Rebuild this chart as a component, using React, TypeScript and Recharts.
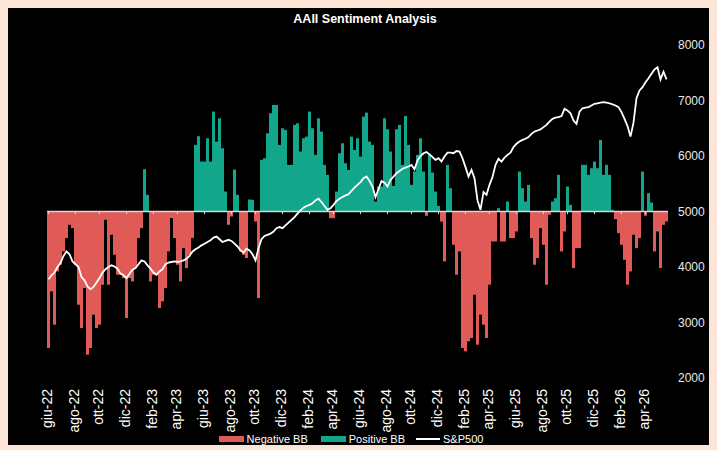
import { ComposedChart, Bar, Line, XAxis, YAxis, Cell, ReferenceLine } from 'recharts';

// AAII bull-bear spread, weekly, from June 2022 (percentage points)
const bbSpread = [
  -41, -24, -34, -18, -16, -12, -8, -4, -5, -16,
  -28, -35, -23, -43, -41, -31, -35, -34, -22, -2.5,
  -22, -7, -13, -19, -19, -20, -32, -20, -21, -17,
  -8, -5, 12.7, 5, -21, -19, -19, -29, -27, -23,
  -12, -2, -8, -16, -21, -11, -17, -13, -8, 20,
  22.6, 15, 15, 22, 15, 30, 21, 28, 19, 6,
  -4, -1.5, 12.6, 5, -12, -13, -14, 3.6, 3.5, -3,
  -26, 15.5, 16, 23.5, 29.5, 32, 32, 20, 25, 24.5,
  14, 14, 26, 26.5, 18, 22, 22.5, 30, 25, 17,
  28, 24, 14, 11, -2, -2, 6, 17.5, 20.5, 14.5,
  12.5, 22.5, 18.5, 22, 16.5, 28.5, 29.7, 21, 20, 3,
  7.5, 7.5, 28, 24.7, 18, 7.7, 24.7, 26, 14, 28.7,
  20, 8, 12, 17, 22, 12, -1.3, 17.4, 11.7, 6,
  1.7, -3, -15, 14, 7, -10, -19, -12, -41, -42,
  -39, -38, -25, -40, -31, -34, -38, -22, -9, -9,
  1, -9, -9, 3, -8, -8, -6, 12, 7, 3,
  8, -8, -16, -14, -5, -10, -22, -1, 3, 4,
  11, -12, -6, 7.5, 2, -17, -11, -11, 14, 14,
  11, 13, 15, 13, 21.5, 11, 14, 11, 0.5, -2.3,
  -6.5, -10, -14.5, -22, -18, -7, -11, -8, 12, -1.3,
  5.5, 2.7, -12, -6, -17, -4, -3,
];

// S&P500 weekly close
const sp500 = [
  3780, 3850, 3900, 4000, 4070, 4200, 4280, 4230, 4100, 4050,
  4000, 3820, 3760, 3650, 3600, 3640, 3720, 3800, 3900, 3960,
  4000, 4030, 4010, 3970, 3880, 3850, 3800, 3880, 3950, 3980,
  4050, 4120, 4100, 4030, 3970, 3900, 3860, 3920, 3960, 4050,
  4080, 4090, 4100, 4090, 4100, 4120, 4150, 4200, 4280, 4320,
  4350, 4390, 4420, 4450, 4480, 4530, 4550, 4500, 4450, 4470,
  4490, 4470, 4420, 4370, 4300, 4260, 4330, 4300, 4230, 4120,
  4340, 4500, 4560, 4580, 4600, 4640, 4700, 4720, 4700, 4750,
  4800, 4850, 4900, 4960, 5020, 5070, 5100, 5120, 5150, 5200,
  5230, 5170, 5100, 5030, 5060, 5120, 5190, 5230, 5260, 5290,
  5310, 5370, 5430, 5480, 5530, 5600, 5630, 5550, 5450, 5260,
  5400, 5550, 5520, 5450, 5570, 5630, 5690, 5730, 5770, 5790,
  5810, 5840, 5760, 5920, 6000, 6050, 6070, 6030, 5980, 5930,
  5960, 5900, 5990, 6060, 6060, 6050, 6090, 6080, 5960, 5800,
  5630, 5750, 5600, 5200, 5030, 5350, 5300, 5480, 5620, 5840,
  5950, 5900, 5970, 6020, 6060, 6160, 6220, 6260, 6290, 6310,
  6340, 6400, 6440, 6460, 6480, 6520, 6560, 6620, 6670, 6690,
  6700, 6720, 6850, 6820, 6770, 6640, 6580, 6800, 6860, 6870,
  6880, 6910, 6940, 6950, 6960, 6970, 6960, 6950, 6930, 6910,
  6880, 6790, 6670, 6540, 6350, 6600, 7040, 7180, 7240, 7330,
  7400, 7480, 7560, 7600, 7380, 7520, 7380,
];

const tickLabels = [
  'giu-22', 'ago-22', 'ott-22', 'dic-22', 'feb-23', 'apr-23', 'giu-23', 'ago-23',
  'ott-23', 'dic-23', 'feb-24', 'apr-24', 'giu-24', 'ago-24', 'ott-24', 'dic-24',
  'feb-25', 'apr-25', 'giu-25', 'ago-25', 'ott-25', 'dic-25', 'feb-26', 'apr-26',
];
// week index where each month label starts
const tickWeeks = [0, 9, 17, 26, 35, 43, 52, 61, 69, 78, 87, 95, 104, 113, 121, 130, 139, 147, 156, 165, 173, 182, 191, 199];

const spTicks = [2000, 3000, 4000, 5000, 6000, 7000, 8000];

const RED = '#e05a58';
const GREEN = '#12a68a';
const FONT = '"Liberation Sans", Arial, sans-serif';

const data = bbSpread.map((bb, i) => ({ week: i, bb, sp: sp500[i] }));

const labelFor: Record<number, string> = {};
tickWeeks.forEach((w, k) => { labelFor[w] = tickLabels[k]; });

if (typeof document !== 'undefined') {
  document.body.style.background = '#FCE4D6';
}

const MonthTick = ({ x, y, payload }: any) => (
  <text
    transform={`translate(${x - 1.5},${y + 3}) rotate(-90)`}
    textAnchor="end"
    dominantBaseline="central"
    fill="#ffffff"
    fontSize={14}
    fontFamily={FONT}
  >
    {labelFor[payload.value]}
  </text>
);

export default function App() {
  return (
    <div style={{ position: 'relative', width: 702, height: 437, background: '#000', fontFamily: FONT }}>
      <div
        style={{
          position: 'absolute', top: 3, left: 6, width: 702, textAlign: 'center',
          color: '#fff', fontWeight: 'bold', fontSize: 12.5, lineHeight: '16px',
        }}
      >
        AAII Sentiment Analysis
      </div>
      <ComposedChart
        width={702}
        height={437}
        data={data}
        margin={{ top: 37, right: 0, left: 39, bottom: 0 }}
        barCategoryGap={0}
        barGap={0}
      >
        <XAxis
          dataKey="week"
          type="category"
          ticks={tickWeeks}
          interval={0}
          tick={<MonthTick />}
          axisLine={false}
          tickLine={false}
          height={67}
        />
        <YAxis yAxisId="bb" hide domain={[-50, 50]} />
        <YAxis
          yAxisId="sp"
          orientation="right"
          domain={[2000, 8000]}
          ticks={spTicks}
          interval={0}
          axisLine={false}
          tickLine={false}
          tickSize={6}
          tickMargin={4}
          width={42}
          tick={{ fill: '#e8e8e8', fontSize: 12, fontFamily: FONT }}
        />
        <Bar dataKey="bb" yAxisId="bb" isAnimationActive={false}>
          {data.map((d) => (
            <Cell key={d.week} fill={d.bb < 0 ? RED : GREEN} />
          ))}
        </Bar>
        <ReferenceLine yAxisId="bb" y={0} stroke="#d6d6d6" strokeWidth={1.5} />
        {tickWeeks.map((w) => (
          <ReferenceLine
            key={w}
            yAxisId="bb"
            segment={[{ x: w, y: 0 }, { x: w, y: -0.8 }]}
            stroke="#d6d6d6"
            strokeWidth={1}
          />
        ))}
        <Line
          dataKey="sp"
          yAxisId="sp"
          type="linear"
          stroke="#ffffff"
          strokeWidth={1.8}
          dot={false}
          isAnimationActive={false}
        />
      </ComposedChart>
      <div
        style={{
          position: 'absolute', top: 425, left: 0, width: 686, display: 'flex',
          justifyContent: 'center', alignItems: 'center', color: '#fff', fontSize: 11,
        }}
      >
        <span style={{ display: 'inline-block', width: 25, height: 6, background: RED, marginRight: 3 }} />
        <span style={{ marginRight: 13 }}>Negative BB</span>
        <span style={{ display: 'inline-block', width: 25, height: 6, background: GREEN, marginRight: 3 }} />
        <span style={{ marginRight: 11 }}>Positive BB</span>
        <span style={{ display: 'inline-block', width: 24, height: 1.5, background: '#fff', marginRight: 3 }} />
        <span>S&amp;P500</span>
      </div>
    </div>
  );
}
